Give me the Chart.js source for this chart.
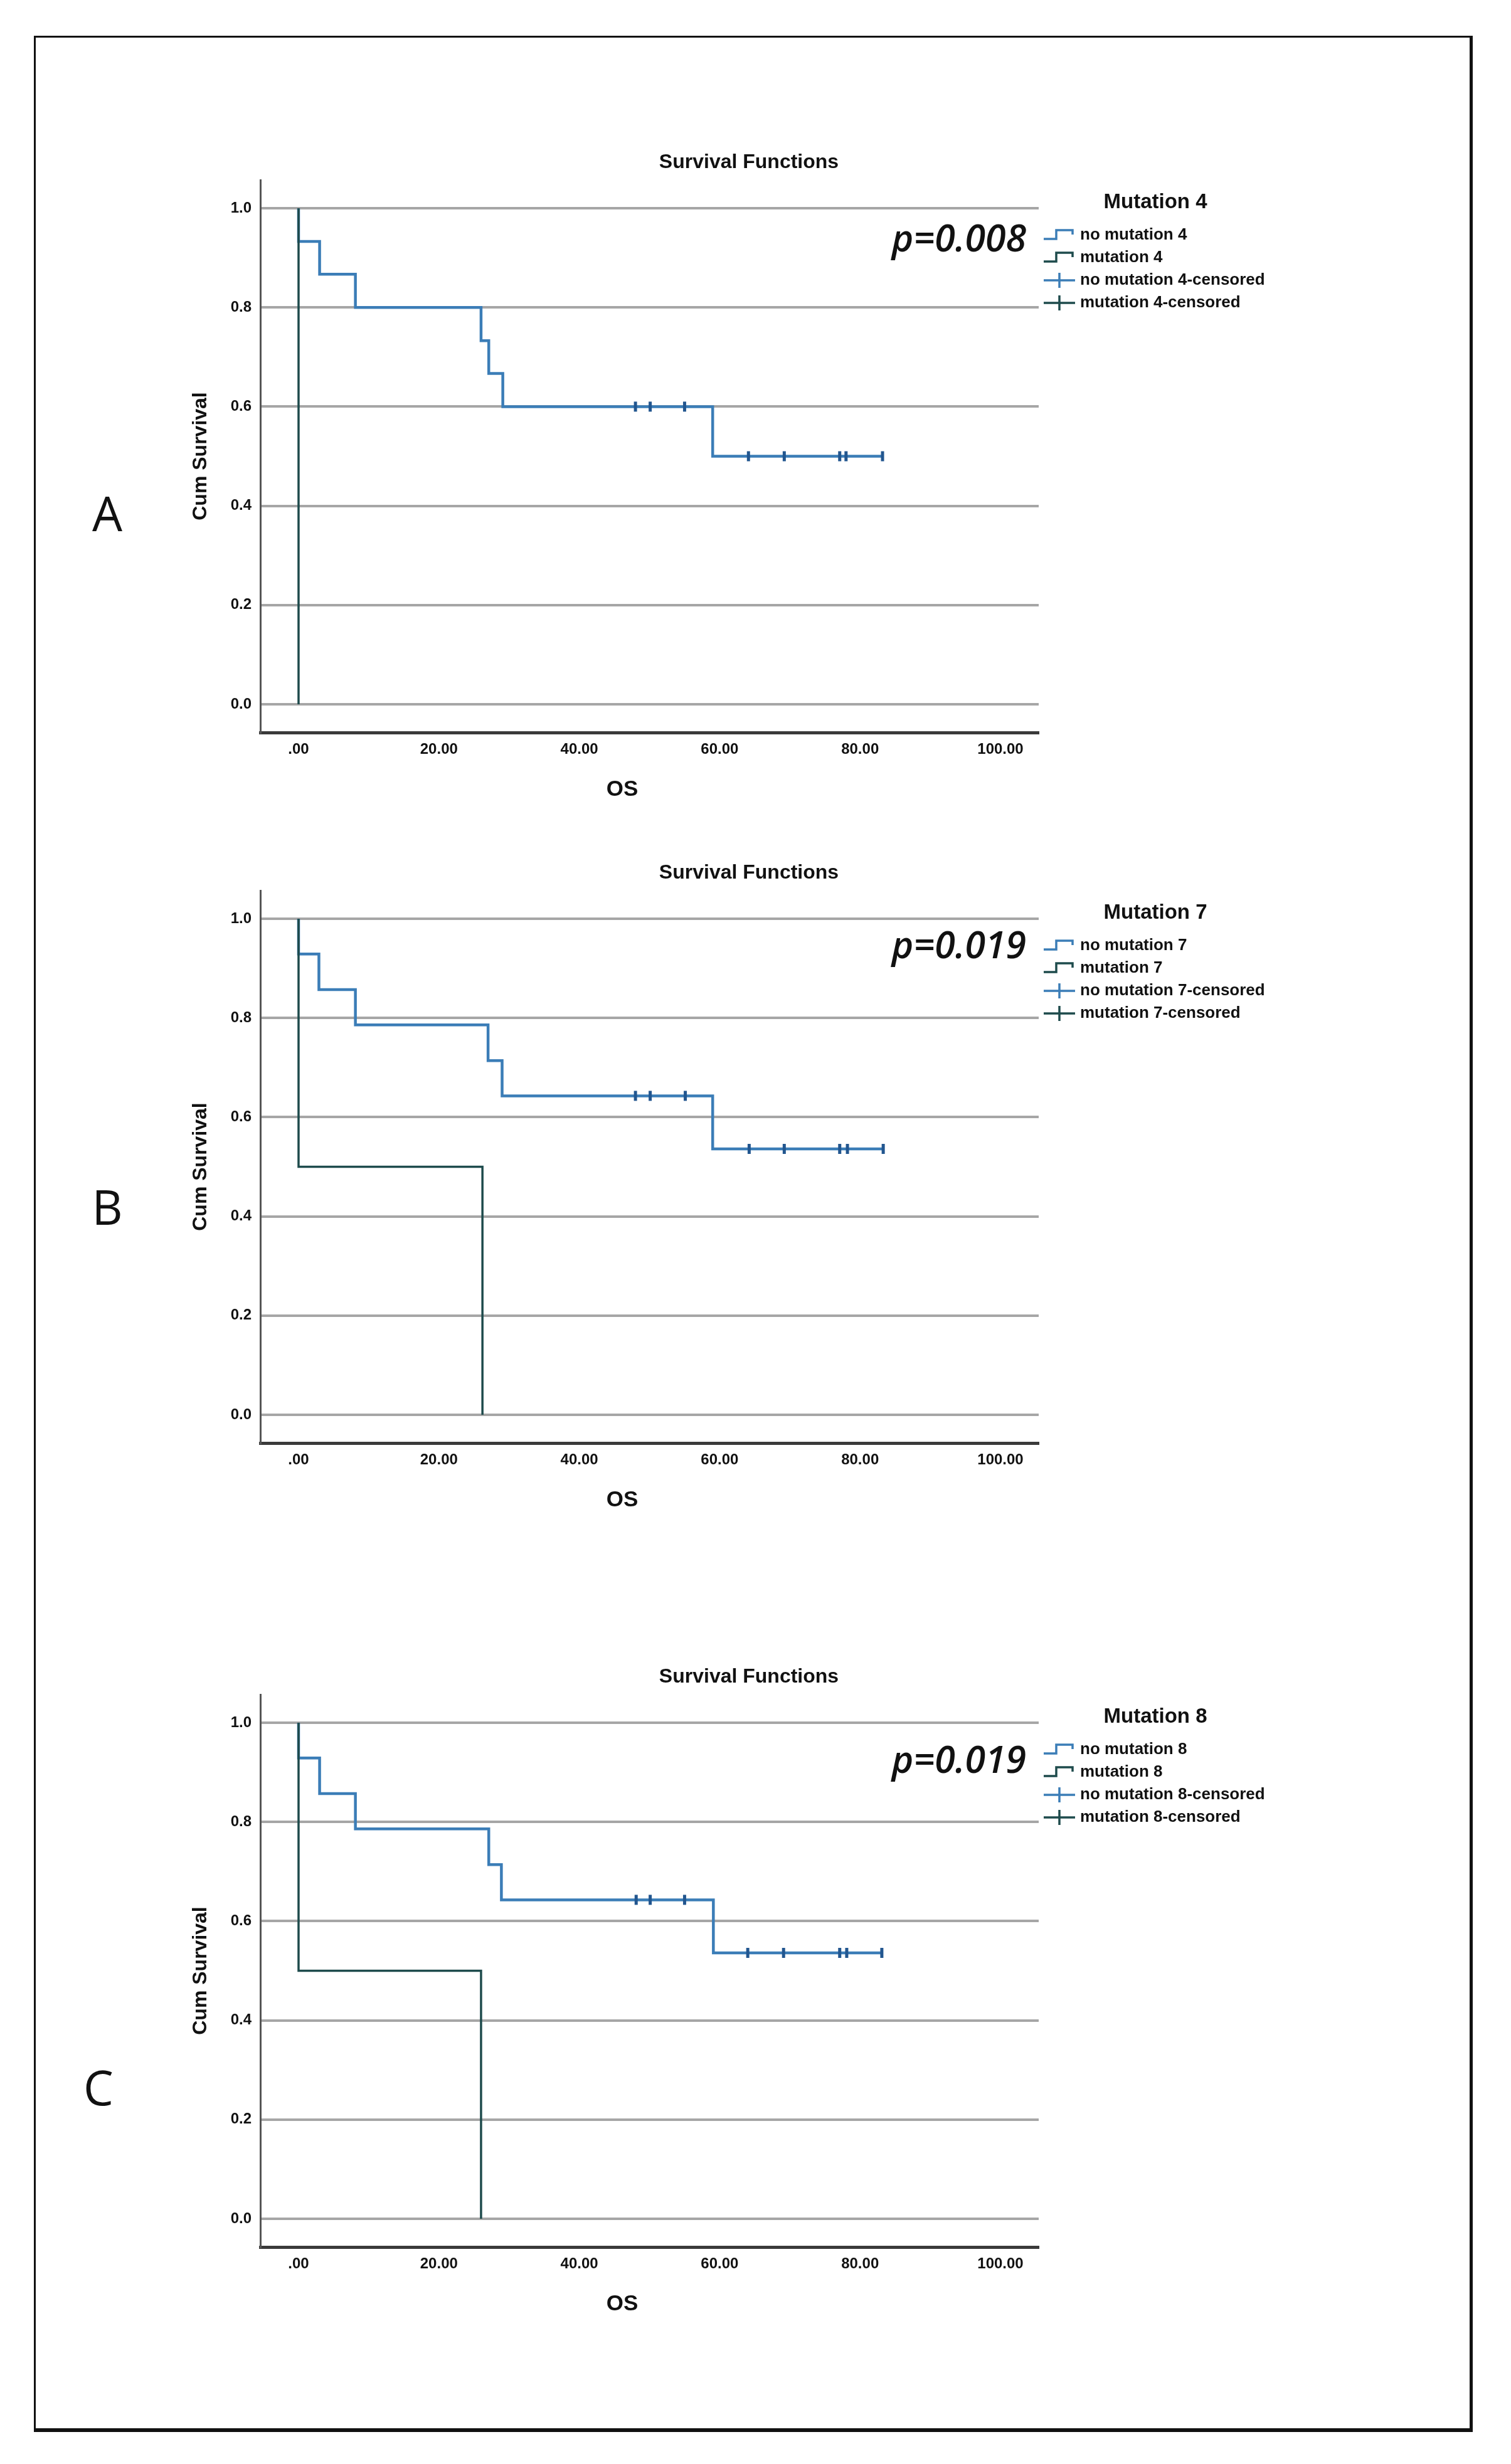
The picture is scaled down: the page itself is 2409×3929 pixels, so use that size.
<!DOCTYPE html>
<html>
<head>
<meta charset="utf-8">
<script src="https://cdn.jsdelivr.net/npm/chart.js@4.4.1/dist/chart.umd.min.js"></script>
<style>
  html, body { margin: 0; padding: 0; background: #fff; }
  body { width: 2409px; height: 3929px; position: relative; overflow: hidden; }
  #frame { position: absolute; left: 54px; top: 57px; width: 2286px; height: 3812px;
           border-left: 3px solid #111; border-top: 3px solid #111;
           border-right: 5px solid #111; border-bottom: 6px solid #111; }
  canvas { position: absolute; left: 0; }
  .tag { position: absolute; font-family: 'Open Sans'; font-size: 76px; color: #111;
         line-height: 1; transform: translate(-50%, -50%); }
</style>
</head>
<body>
<div id="frame"></div>
<div class="tag" style="left:171px; top:818px;">A</div>
<div class="tag" style="left:171px; top:1924px;">B</div>
<div class="tag" style="left:157px; top:3328px;">C</div>
<canvas id="chartA" width="2409" height="1100" style="top:200px"></canvas>
<canvas id="chartB" width="2409" height="1100" style="top:1333px"></canvas>
<canvas id="chartC" width="2409" height="1100" style="top:2615px"></canvas>
<script>
// axis tick labels (SPSS style)
const xTickLabels = ['.00', '20.00', '40.00', '60.00', '80.00', '100.00'];
const yTickLabels = ['0.0', '0.2', '0.4', '0.6', '0.8', '1.0'];

// A: Mutation 4
const noMut4Time = [0, 0, 3.0, 8.1, 26.0, 27.1, 29.1, 59.0, 83.2];
const noMut4Surv = [1.0, 0.933, 0.867, 0.800, 0.733, 0.667, 0.600, 0.500, 0.500];
const mut4Time = [0, 0];
const mut4Surv = [1.0, 0.0];
const noMut4CensTime = [48.0, 50.1, 55.0, 64.1, 69.2, 77.1, 78.0, 83.2];
const noMut4CensSurv = [0.600, 0.600, 0.600, 0.500, 0.500, 0.500, 0.500, 0.500];
const legend4 = ['no mutation 4', 'mutation 4', 'no mutation 4-censored', 'mutation 4-censored'];

// B: Mutation 7
const noMut7Time = [0, 0, 2.9, 8.1, 27.0, 29.0, 59.0, 83.3];
const noMut7Surv = [1.0, 0.929, 0.857, 0.786, 0.714, 0.643, 0.536, 0.536];
const mut7Time = [0, 0, 26.2];
const mut7Surv = [1.0, 0.5, 0.0];
const noMut7CensTime = [48.0, 50.1, 55.1, 64.2, 69.2, 77.1, 78.2, 83.3];
const noMut7CensSurv = [0.643, 0.643, 0.643, 0.536, 0.536, 0.536, 0.536, 0.536];
const legend7 = ['no mutation 7', 'mutation 7', 'no mutation 7-censored', 'mutation 7-censored'];

// C: Mutation 8
const noMut8Time = [0, 0, 3.0, 8.1, 27.1, 28.9, 59.1, 83.1];
const noMut8Surv = [1.0, 0.929, 0.857, 0.786, 0.714, 0.643, 0.536, 0.536];
const mut8Time = [0, 0, 26.0];
const mut8Surv = [1.0, 0.5, 0.0];
const noMut8CensTime = [48.1, 50.1, 55.0, 64.0, 69.1, 77.1, 78.1, 83.1];
const noMut8CensSurv = [0.643, 0.643, 0.643, 0.536, 0.536, 0.536, 0.536, 0.536];
const legend8 = ['no mutation 8', 'mutation 8', 'no mutation 8-censored', 'mutation 8-censored'];

const BLUE = '#3b7db7';
const GREEN = '#1e4b4c';
const CENS = '#22568f';
const FONT = 'Liberation Sans';

function pts(xs, ys) {
  return xs.map((x, i) => ({ x: x, y: ys[i] }));
}

// texts that SPSS places outside the axes: title, OS, p value, legend
const panelNotes = {
  id: 'panelNotes',
  afterDraw(chart, args, opts) {
    const ctx = chart.ctx;
    const g = chart.scales.y.getPixelForValue(1.0);
    ctx.save();
    ctx.fillStyle = '#111';
    ctx.textBaseline = 'middle';

    ctx.font = 'bold 32px "' + FONT + '"';
    ctx.textAlign = 'center';
    ctx.fillText('Survival Functions', 1194, g - 73);

    ctx.font = 'bold 35px "' + FONT + '"';
    ctx.fillText('OS', 992, g + 927);

    ctx.font = 'bold 33px "' + FONT + '"';
    ctx.fillText(opts.title, 1842, g - 9);

    ctx.font = 'italic 600 59px "Open Sans"';
    ctx.textAlign = 'right';
    ctx.fillText(opts.pText, 1636, g + opts.pOffset);

    ctx.font = 'bold 26px "' + FONT + '"';
    ctx.textAlign = 'left';
    const x0 = 1664;
    opts.labels.forEach((lab, i) => {
      const y = g + 43 + i * 36;
      const col = i % 2 === 0 ? BLUE : GREEN;
      ctx.strokeStyle = col;
      ctx.lineWidth = 3.5;
      ctx.beginPath();
      if (i < 2) {
        ctx.moveTo(x0, y + 6);
        ctx.lineTo(x0 + 20, y + 6);
        ctx.lineTo(x0 + 20, y - 8);
        ctx.lineTo(x0 + 46, y - 8);
        ctx.lineTo(x0 + 46, y - 1);
      } else {
        ctx.moveTo(x0, y);
        ctx.lineTo(x0 + 50, y);
        ctx.moveTo(x0 + 25, y - 12);
        ctx.lineTo(x0 + 25, y + 12);
      }
      ctx.stroke();
      ctx.fillStyle = '#111';
      ctx.fillText(lab, 1722, y);
    });
    ctx.restore();
  }
};

function makePanel(id, noT, noS, mT, mS, cT, cS, labels, pText, pOffset) {
  new Chart(document.getElementById(id), {
    type: 'line',
    data: {
      datasets: [
        {
          label: labels[2],
          data: pts(cT, cS),
          showLine: false,
          pointStyle: 'line',
          pointRotation: 90,
          pointRadius: 8,
          pointBorderWidth: 5,
          pointBorderColor: CENS,
          borderColor: CENS,
          order: 0
        },
        {
          label: labels[1],
          data: pts(mT, mS),
          stepped: 'before',
          borderColor: GREEN,
          borderWidth: 3.5,
          pointRadius: 0,
          fill: false,
          order: 1
        },
        {
          label: labels[0],
          data: pts(noT, noS),
          stepped: 'before',
          borderColor: BLUE,
          borderWidth: 4.5,
          pointRadius: 0,
          fill: false,
          order: 2
        }
      ]
    },
    options: {
      responsive: false,
      animation: false,
      devicePixelRatio: 1,
      layout: { padding: { left: 301, right: 753, top: 87, bottom: 7 } },
      plugins: {
        legend: { display: false },
        title: { display: false },
        tooltip: { enabled: false },
        panelNotes: { title: 'Mutation ' + labels[1].split(' ')[1], labels: labels, pText: pText, pOffset: pOffset }
      },
      scales: {
        x: {
          type: 'linear',
          min: -5.45,
          max: 105.45,
          ticks: {
            stepSize: 20,
            includeBounds: false,
            autoSkip: false,
            maxRotation: 0,
            padding: 13,
            color: '#111',
            font: { family: FONT, weight: 'bold', size: 24 },
            callback: (v, i) => xTickLabels[i]
          },
          grid: { display: false, drawTicks: false },
          border: { display: true, color: '#3a3a3a', width: 5 },
          afterFit(s) { s.height = 125; }
        },
        y: {
          min: -0.0569,
          max: 1.0569,
          ticks: {
            stepSize: 0.2,
            includeBounds: false,
            padding: 14,
            color: '#111',
            font: { family: FONT, weight: 'bold', size: 24 },
            callback: (v, i) => yTickLabels[i]
          },
          grid: { color: '#a6a6a6', lineWidth: 4, drawTicks: false },
          border: { display: true, color: '#555', width: 3 },
          title: {
            display: true,
            text: 'Cum Survival',
            color: '#111',
            font: { family: FONT, weight: 'bold', size: 32 },
            padding: 0
          },
          afterFit(s) { s.width = 114; }
        }
      }
    },
    plugins: [panelNotes]
  });
}

makePanel('chartA', noMut4Time, noMut4Surv, mut4Time, mut4Surv, noMut4CensTime, noMut4CensSurv, legend4, 'p=0.008', 52);
makePanel('chartB', noMut7Time, noMut7Surv, mut7Time, mut7Surv, noMut7CensTime, noMut7CensSurv, legend7, 'p=0.019', 46);
makePanel('chartC', noMut8Time, noMut8Surv, mut8Time, mut8Surv, noMut8CensTime, noMut8CensSurv, legend8, 'p=0.019', 63);
</script>
</body>
</html>
